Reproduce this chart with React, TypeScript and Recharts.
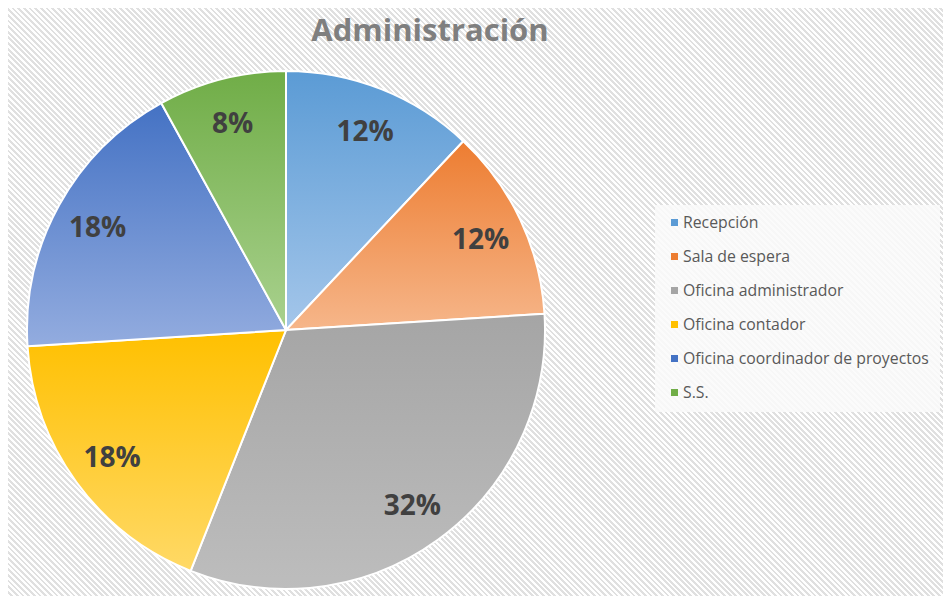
import React from "react"
import { PieChart, Pie, Cell, Legend } from "recharts"

const categories = [
  "Recepción",
  "Sala de espera",
  "Oficina administrador",
  "Oficina contador",
  "Oficina coordinador de proyectos",
  "S.S.",
]
const values = [12, 12, 32, 18, 18, 8]

const colors = ["#5b9bd5", "#ed7d31", "#a5a5a5", "#ffc000", "#4472c4", "#70ad47"]
const lightColors = ["#a4c6ea", "#f6b68a", "#bdbdbd", "#ffd966", "#93acdf", "#a9d18e"]

const data = categories.map((name, i) => ({ name, value: values[i] }))

const W = 943
const H = 588
const RAD = Math.PI / 180

function renderLabel(props: any) {
  const { cx, cy, midAngle, outerRadius, percent } = props
  const r = outerRadius * 0.83
  const x = cx + r * Math.cos(-midAngle * RAD)
  const y = cy + r * Math.sin(-midAngle * RAD)
  return (
    <text
      x={x}
      y={y}
      textAnchor="middle"
      dominantBaseline="central"
      fill="#404040"
      fontFamily="'Open Sans', sans-serif"
      fontWeight={700}
      fontSize={28}
    >
      {`${Math.round(percent * 100)}%`}
    </text>
  )
}

function LegendBox() {
  return (
    <div
      style={{
        background: "rgba(250,250,250,0.85)",
        padding: "0 0 3px 16px",
        fontFamily: "'Open Sans', sans-serif",
        fontSize: 15.8,
        color: "#595959",
      }}
    >
      {categories.map((name, i) => (
        <div key={name} style={{ display: "flex", alignItems: "center", height: 34 }}>
          <span
            style={{ width: 7, height: 7, background: colors[i], marginRight: 5, display: "inline-block" }}
          />
          {name}
        </div>
      ))}
    </div>
  )
}

export default function App() {
  return (
    <div
      style={{
        position: "relative",
        width: W,
        height: H,
        background: "repeating-linear-gradient(45deg, #ffffff 0px, #ffffff 2px, #e0e0e0 2px, #e0e0e0 4px)",
      }}
    >
      <style>{"body{overflow:hidden}"}</style>
      <div
        style={{
          position: "absolute",
          left: 0,
          width: 844,
          top: 0,
          textAlign: "center",
          fontFamily: "'Open Sans', sans-serif",
          fontWeight: 700,
          fontSize: 31,
          color: "#7f7f7f",
        }}
      >
        Administración
      </div>
      <PieChart width={W} height={H} margin={{ top: 0, right: 0, bottom: 0, left: 0 }} style={{ position: "absolute", left: 0, top: 0 }}>
        <defs>
          {colors.map((c, i) => (
            <linearGradient key={i} id={`g${i}`} x1="0" y1="0" x2="0" y2="1">
              <stop offset="0%" stopColor={c} />
              <stop offset="100%" stopColor={lightColors[i]} />
            </linearGradient>
          ))}
        </defs>
        <Pie
          data={data}
          dataKey="value"
          nameKey="name"
          cx={278}
          cy={322}
          outerRadius={259}
          startAngle={90}
          endAngle={-270}
          stroke="#ffffff"
          strokeWidth={2}
          label={renderLabel}
          labelLine={false}
          isAnimationActive={false}
        >
          {data.map((d, i) => (
            <Cell key={d.name} fill={`url(#g${i})`} />
          ))}
        </Pie>
        <Legend
          layout="vertical"
          align="right"
          verticalAlign="middle"
          content={() => <LegendBox />}
          wrapperStyle={{ left: 647, top: 197, width: 285 }}
        />
      </PieChart>
    </div>
  )
}
